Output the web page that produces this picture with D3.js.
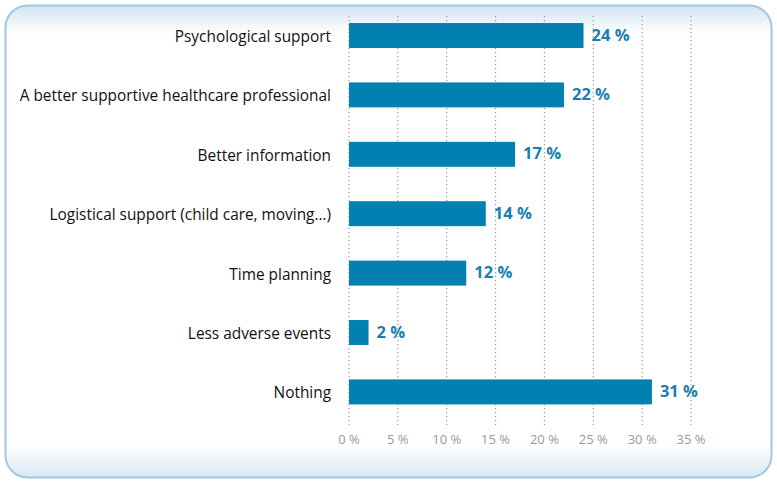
<!DOCTYPE html>
<html><head><meta charset="utf-8">
<script src="https://cdn.jsdelivr.net/npm/d3@7"></script>
<style>body{margin:0;background:#fff;}svg{display:block;}</style>
</head><body>
<svg id="c" width="777" height="483"></svg>
<script>
const categories = ["Psychological support","A better supportive healthcare professional","Better information","Logistical support (child care, moving…)","Time planning","Less adverse events","Nothing"];
const values = [24,22,17,14,12,2,31];
const ticks = [0,5,10,15,20,25,30,35];

const svg = d3.select("#c");
const defs = svg.append("defs");
const g1 = defs.append("linearGradient").attr("id","fr").attr("x1",0).attr("y1",0).attr("x2",0).attr("y2",1);
g1.append("stop").attr("offset","0").attr("stop-color","#d2e4f1");
g1.append("stop").attr("offset","0.06").attr("stop-color","#ffffff");
g1.append("stop").attr("offset","0.93").attr("stop-color","#ffffff");
g1.append("stop").attr("offset","1").attr("stop-color","#d8e8f3");
svg.append("rect").attr("x",5.5).attr("y",5.5).attr("width",766).attr("height",472).attr("rx",22)
  .attr("fill","url(#fr)").attr("stroke","#a4c6df").attr("stroke-width",2);

const x = d3.scaleLinear().domain([0,35]).range([349,691]);
const y = d3.scaleBand().domain(categories).range([5.8,421.6]).paddingInner(0.58).paddingOuter(0.29);

// grid
svg.append("g").selectAll("line").data(ticks).join("line")
  .attr("x1",d=>x(d)).attr("x2",d=>x(d)).attr("y1",16).attr("y2",425)
  .attr("stroke","#999").attr("stroke-width",1.2).attr("stroke-dasharray","1.2,2.8");

// tick labels
svg.append("g").selectAll("text").data(ticks).join("text")
  .attr("x",d=>x(d)).attr("y",444).attr("text-anchor","middle")
  .attr("font-family","Open Sans, sans-serif").attr("font-size",13).attr("fill","#999")
  .text(d=>d+" %");

// bars
svg.append("g").selectAll("rect").data(values).join("rect")
  .attr("x",x(0)).attr("y",(d,i)=>y(categories[i]))
  .attr("width",d=>x(d)-x(0)).attr("height",y.bandwidth())
  .attr("fill","#0280b1");

// value labels
svg.append("g").selectAll("text").data(values).join("text")
  .attr("x",d=>x(d)+8).attr("y",(d,i)=>y(categories[i])+y.bandwidth()/2+5)
  .attr("font-family","Open Sans, sans-serif").attr("font-size",16.5).attr("font-weight","bold")
  .attr("fill","#1a7fb0").text(d=>d+" %");

// category labels
svg.append("g").selectAll("text").data(categories).join("text")
  .attr("x",331).attr("y",d=>y(d)+y.bandwidth()/2+6.5).attr("text-anchor","end")
  .attr("font-family","Open Sans, sans-serif").attr("font-size",15.4).attr("fill","#111")
  .text(d=>d);
</script>
</body></html>
